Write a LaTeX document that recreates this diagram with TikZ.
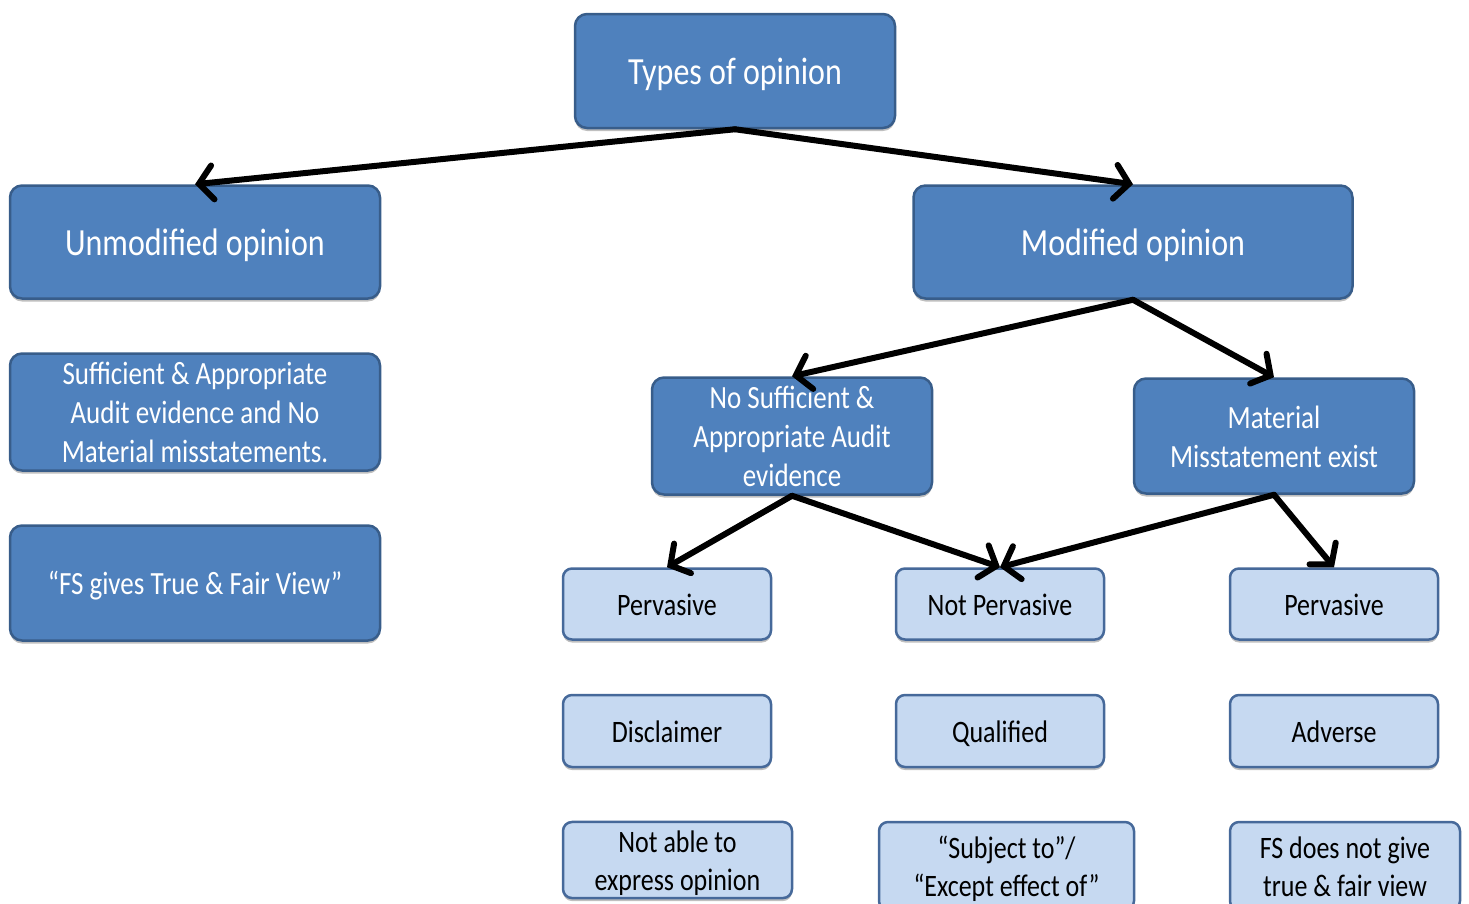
\documentclass[tikz,border=0pt]{standalone}
\usepackage{fontspec}
\setmainfont{Carlito}
\usetikzlibrary{arrows.meta,shadows}
\definecolor{dfill}{HTML}{4F81BD}
\definecolor{dline}{HTML}{385D8A}
\definecolor{lfill}{HTML}{C6D9F1}
\definecolor{lline}{HTML}{46699A}
\newcommand\vtxt[1]{\raisebox{-4pt}[\height][\depth]{\scalebox{1}[1.2]{\begin{tabular}{@{}c@{}}#1\end{tabular}}}}
\begin{document}
\begin{tikzpicture}[x=1pt,y=-1pt,
  dbox/.style={draw=dline, line width=2.5pt, fill=dfill, rounded corners=12pt, text=white, inner sep=0pt,
    drop shadow={shadow xshift=0pt,shadow yshift=-3pt,opacity=.25,fill=black}},
  lbox/.style={draw=lline, line width=2.5pt, fill=lfill, rounded corners=9pt, text=black, inner sep=0pt,
    drop shadow={shadow xshift=0pt,shadow yshift=-3pt,opacity=.25,fill=black}},
  big/.style={font=\fontsize{32}{38}\selectfont},
  mid/.style={font=\fontsize{27}{32.5}\selectfont},
  sml/.style={font=\fontsize{26}{31.7}\selectfont},
  arr/.style={line width=6pt, line cap=round, -{Straight Barb[length=14pt,width=34pt,line cap=round]}}]
\useasboundingbox (0,0) rectangle (1469,903);
% top level
\node[dbox,big,minimum width=320pt,minimum height=114pt] (types) at (735,71) {\vtxt{Types of opinion}};
\node[dbox,big,minimum width=370pt,minimum height=113pt] (unmod) at (195,242) {\vtxt{Unmodified opinion}};
\node[dbox,big,minimum width=439pt,minimum height=113pt] (mod) at (1133,242) {\vtxt{Modified opinion}};
% left column
\node[dbox,mid,minimum width=370pt,minimum height=115pt] (suff) at (195,412) {\vtxt{Sufficient \& Appropriate\\Audit evidence and No\\Material misstatements.}};
\node[dbox,mid,minimum width=370pt,minimum height=115pt] (tfv) at (195,583) {\vtxt{“FS gives True \& Fair View”}};
% second level right
\node[dbox,mid,minimum width=280pt,minimum height=115pt] (nosuff) at (792,436) {\vtxt{No Sufficient \&\\Appropriate Audit\\evidence}};
\node[dbox,mid,minimum width=280pt,minimum height=115pt] (mat) at (1274,436) {\vtxt{Material\\Misstatement exist}};
% third level
\node[lbox,sml,minimum width=208pt,minimum height=71pt] (pervL) at (667,604) {\vtxt{Pervasive}};
\node[lbox,sml,minimum width=208pt,minimum height=71pt] (notperv) at (1000,604) {\vtxt{Not Pervasive}};
\node[lbox,sml,minimum width=208pt,minimum height=71pt] (pervR) at (1334,604) {\vtxt{Pervasive}};
% opinions
\node[lbox,sml,minimum width=208pt,minimum height=72pt] (disc) at (667,731) {\vtxt{Disclaimer}};
\node[lbox,sml,minimum width=208pt,minimum height=72pt] (qual) at (1000,731) {\vtxt{Qualified}};
\node[lbox,sml,minimum width=208pt,minimum height=72pt] (adv) at (1334,731) {\vtxt{Adverse}};
% descriptions
\node[lbox,sml,minimum width=229pt,minimum height=76pt] (notable) at (677.5,860) {\vtxt{Not able to\\express opinion}};
\node[lbox,sml,minimum width=255pt,minimum height=88pt] (subj) at (1006.5,866) {\vtxt{“Subject to”/\\“Except effect of”}};
\node[lbox,sml,minimum width=230pt,minimum height=88pt] (fsnot) at (1345,866) {\vtxt{FS does not give\\true \& fair view}};
% connectors
\draw[arr] (types.south) -- (unmod.north);
\draw[arr] (types.south) -- (mod.north);
\draw[arr] (mod.south) -- (nosuff.north);
\draw[arr] (mod.south) -- (mat.north);
\draw[arr] (nosuff.south) -- (pervL.north);
\draw[arr] (nosuff.south) -- (notperv.north);
\draw[arr] (mat.south) -- (notperv.north);
\draw[arr] (mat.south) -- (pervR.north);
\end{tikzpicture}
\end{document}
